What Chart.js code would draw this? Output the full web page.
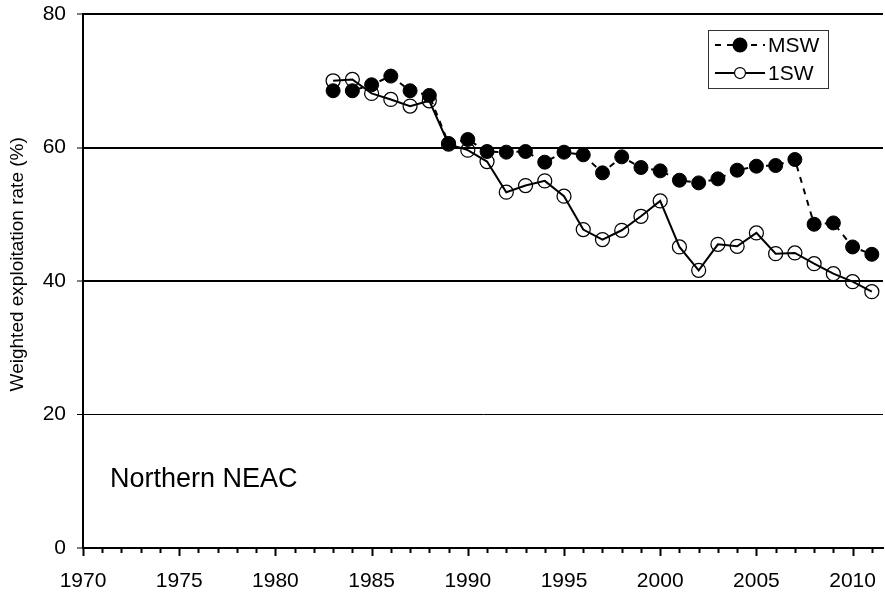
<!DOCTYPE html>
<html>
<head>
<meta charset="utf-8">
<script src="https://cdn.jsdelivr.net/npm/chart.js@4/dist/chart.umd.min.js"></script>
<style>
  html, body { margin: 0; padding: 0; background: #fff; }
  #wrap { width: 885px; height: 597px; }
</style>
</head>
<body>
<div id="wrap"><canvas id="c" width="885" height="597"></canvas></div>
<script>
// Weighted exploitation rates, Northern NEAC stock complex
const years = [1983, 1984, 1985, 1986, 1987, 1988, 1989, 1990, 1991, 1992,
               1993, 1994, 1995, 1996, 1997, 1998, 1999, 2000, 2001, 2002,
               2003, 2004, 2005, 2006, 2007, 2008, 2009, 2010, 2011];
const msw = [68.5, 68.5, 69.4, 70.7, 68.5, 67.8, 60.6, 61.2, 59.4, 59.3,
             59.4, 57.8, 59.3, 58.9, 56.2, 58.6, 57.0, 56.5, 55.1, 54.7,
             55.3, 56.6, 57.2, 57.3, 58.2, 48.5, 48.7, 45.1, 44.0];
const oneSW = [70.0, 70.2, 68.1, 67.2, 66.2, 67.0, 60.5, 59.6, 57.9, 53.3,
               54.3, 55.0, 52.7, 47.7, 46.2, 47.6, 49.7, 52.0, 45.1, 41.6,
               45.5, 45.2, 47.2, 44.1, 44.2, 42.6, 41.1, 39.9, 38.4];
const seriesNames = ['MSW', '1SW'];
const xTickYears = [];
for (let y = 1970; y <= 2011; y++) xTickYears.push(y);
const yTicks = [0, 20, 40, 60, 80];
const regionLabel = 'Northern NEAC';
const yTitle = 'Weighted exploitation rate (%)';

const FONT = '"Liberation Sans", Arial, Helvetica, sans-serif';

const toPoints = (vals) => years.map((y, i) => ({ x: y, y: vals[i] }));

// Keep the plot frame fixed: no extra room reserved for edge labels
const noEdgePadding = (scale) => {
  scale.paddingTop = 0;
  scale.paddingBottom = 0;
  scale.paddingLeft = 0;
  scale.paddingRight = 0;
};

// Year tick marks below the x axis: long every 5 years, short otherwise
const xTickMarks = {
  id: 'xTickMarks',
  afterDraw(chart) {
    const ctx = chart.ctx, xs = chart.scales.x, bottom = chart.chartArea.bottom;
    ctx.save();
    ctx.strokeStyle = '#000';
    ctx.lineWidth = 2;
    xTickYears.forEach(v => {
      const px = Math.round(xs.getPixelForValue(v)) + 0.5;
      const len = v % 5 === 0 ? 8 : 5;
      ctx.beginPath();
      ctx.moveTo(px, bottom);
      ctx.lineTo(px, bottom + len);
      ctx.stroke();
    });
    ctx.restore();
  }
};

// Y-axis title, region name and boxed legend
const annotations = {
  id: 'annotations',
  afterDraw(chart) {
    const ctx = chart.ctx, xs = chart.scales.x, ys = chart.scales.y;
    ctx.save();
    ctx.fillStyle = '#000';

    ctx.save();
    ctx.translate(18, ys.getPixelForValue(42.5));
    ctx.rotate(-Math.PI / 2);
    ctx.font = '19px ' + FONT;
    ctx.textAlign = 'center';
    ctx.textBaseline = 'middle';
    ctx.fillText(yTitle, 0, 0);
    ctx.restore();

    ctx.font = '27px ' + FONT;
    ctx.textBaseline = 'alphabetic';
    ctx.textAlign = 'left';
    ctx.fillText(regionLabel, xs.getPixelForValue(1971.4), ys.getPixelForValue(9.1));

    // legend box
    const bx = 708.5, by = 30.5, bw = 120, bh = 58;
    ctx.strokeStyle = '#333';
    ctx.lineWidth = 1;
    ctx.fillStyle = '#fff';
    ctx.fillRect(bx, by, bw, bh);
    ctx.strokeRect(bx, by, bw, bh);

    const rows = [
      { y: 45, dash: [6, 6], filled: true, r: 7.5, name: seriesNames[0] },
      { y: 73, dash: [], filled: false, r: 5.5, name: seriesNames[1] }
    ];
    rows.forEach(row => {
      ctx.strokeStyle = '#000';
      ctx.lineWidth = 2;
      ctx.setLineDash(row.dash);
      ctx.beginPath();
      ctx.moveTo(715, row.y);
      ctx.lineTo(765, row.y);
      ctx.stroke();
      ctx.setLineDash([]);
      ctx.beginPath();
      ctx.arc(740, row.y, row.r, 0, Math.PI * 2);
      if (row.filled) {
        ctx.fillStyle = '#000';
        ctx.fill();
      } else {
        ctx.fillStyle = '#fff';
        ctx.fill();
        ctx.lineWidth = 1.25;
        ctx.stroke();
      }
      ctx.fillStyle = '#000';
      ctx.font = '21px ' + FONT;
      ctx.textBaseline = 'middle';
      ctx.fillText(row.name, 768, row.y + 1);
    });
    ctx.restore();
  }
};

new Chart(document.getElementById('c'), {
  type: 'line',
  data: {
    datasets: [
      {
        label: seriesNames[0],
        data: toPoints(msw),
        borderColor: '#000',
        borderWidth: 2,
        borderDash: [6, 6],
        pointRadius: 7,
        pointBackgroundColor: '#000',
        pointBorderColor: '#000',
        pointBorderWidth: 1,
        tension: 0,
        fill: false,
        clip: false
      },
      {
        label: seriesNames[1],
        data: toPoints(oneSW),
        borderColor: '#000',
        borderWidth: 2,
        pointRadius: 7,
        pointBackgroundColor: 'rgba(0,0,0,0)',
        pointBorderColor: '#000',
        pointBorderWidth: 1.25,
        tension: 0,
        fill: false,
        clip: false
      }
    ]
  },
  options: {
    responsive: false,
    animation: false,
    events: [],
    layout: { autoPadding: false, padding: { top: 14, right: 2, left: 0, bottom: 0 } },
    plugins: {
      legend: { display: false },
      tooltip: { enabled: false },
      title: { display: false }
    },
    scales: {
      x: {
        type: 'linear',
        min: 1970,
        max: 2011.58,
        afterBuildTicks(scale) {
          scale.ticks = xTickYears.map(v => ({ value: v }));
        },
        afterFit(scale) { scale.height = 49; noEdgePadding(scale); },
        grid: { display: false, drawTicks: false },
        border: { display: true, color: '#000', width: 2 },
        ticks: {
          autoSkip: false,
          maxRotation: 0,
          padding: 21,
          color: '#000',
          font: { family: FONT, size: 21 },
          callback: (v) => (v % 5 === 0 ? String(v) : '')
        }
      },
      y: {
        type: 'linear',
        min: 0,
        max: 80,
        afterBuildTicks(scale) {
          scale.ticks = yTicks.map(v => ({ value: v }));
        },
        afterFit(scale) { scale.width = 83; noEdgePadding(scale); },
        grid: {
          color: '#000',
          lineWidth: (c) => (c.tick && c.tick.value === 0 ? 0 : (c.tick && c.tick.value === 20 ? 1 : 2)),
          drawTicks: true,
          tickLength: 6,
          tickWidth: 1,
          tickColor: '#000'
        },
        border: { display: true, color: '#000', width: 2 },
        title: { display: false },
        ticks: {
          padding: 11,
          color: '#000',
          font: { family: FONT, size: 21 }
        }
      }
    }
  },
  plugins: [xTickMarks, annotations]
});
</script>
</body>
</html>
